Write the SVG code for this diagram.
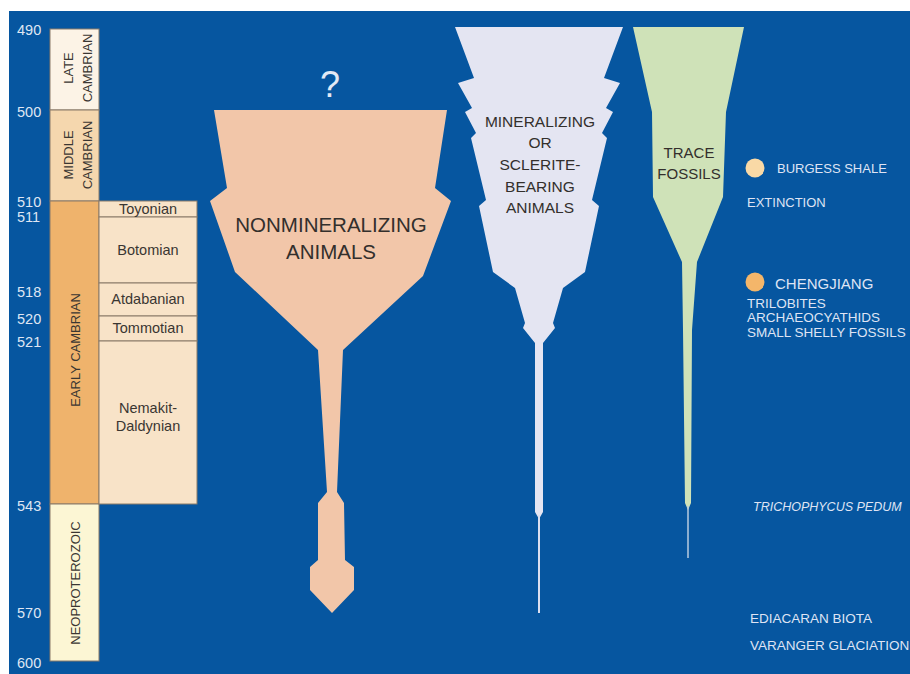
<svg xmlns="http://www.w3.org/2000/svg" width="910" height="674" viewBox="0 0 910 674">
<style>
  .num{font-family:"Liberation Sans",Arial,sans-serif;font-size:14.5px;fill:#dfe6f3}
  .lab{font-family:"Liberation Sans",Arial,sans-serif;fill:#dfe4f4}
  .era{font-family:"Liberation Sans",Arial,sans-serif;font-size:13px;fill:#3a3632;text-anchor:middle}
  .stg{font-family:"Liberation Sans",Arial,sans-serif;font-size:14.5px;fill:#3a3632;text-anchor:middle}
  .big{font-family:"Liberation Sans",Arial,sans-serif;fill:#332f2c;text-anchor:middle}
  .box{stroke:#8a7a68;stroke-width:1}
</style>
<rect x="0" y="0" width="910" height="674" fill="#ffffff"/>
<rect x="9" y="11" width="901" height="663" fill="#0656a0"/>

<g id="timescale">
  <rect class="box" x="50" y="29" width="49" height="81" fill="#fcf3e6"/>
  <rect class="box" x="50" y="110" width="49" height="91" fill="#f5d7ae"/>
  <rect class="box" x="50" y="201" width="49" height="303" fill="#efb36c"/>
  <rect class="box" x="50" y="504" width="49" height="157" fill="#fcf6d4"/>
  <text class="era" transform="translate(72.5,68) rotate(-90)">LATE</text>
  <text class="era" transform="translate(91.5,68) rotate(-90)">CAMBRIAN</text>
  <text class="era" transform="translate(72.5,155) rotate(-90)">MIDDLE</text>
  <text class="era" transform="translate(91.5,155) rotate(-90)">CAMBRIAN</text>
  <text class="era" transform="translate(80,350) rotate(-90)">EARLY CAMBRIAN</text>
  <text class="era" transform="translate(80,583) rotate(-90)">NEOPROTEROZOIC</text>
</g>

<g id="stages">
  <rect class="box" x="99" y="201" width="98" height="16" fill="#f8e3c8"/>
  <rect class="box" x="99" y="217" width="98" height="66" fill="#f8e3c8"/>
  <rect class="box" x="99" y="283" width="98" height="33" fill="#f8e3c8"/>
  <rect class="box" x="99" y="316" width="98" height="25" fill="#f8e3c8"/>
  <rect class="box" x="99" y="341" width="98" height="163" fill="#f8e3c8"/>
  <text class="stg" x="148" y="214">Toyonian</text>
  <text class="stg" x="148" y="255">Botomian</text>
  <text class="stg" x="148" y="304">Atdabanian</text>
  <text class="stg" x="148" y="333">Tommotian</text>
  <text class="stg" x="148" y="413">Nemakit-</text>
  <text class="stg" x="148" y="431">Daldynian</text>
</g>

<g id="ages">
  <text class="num" x="17" y="35">490</text>
  <text class="num" x="17" y="117">500</text>
  <text class="num" x="17" y="207">510</text>
  <text class="num" x="17" y="222">511</text>
  <text class="num" x="17" y="297">518</text>
  <text class="num" x="17" y="324">520</text>
  <text class="num" x="17" y="347">521</text>
  <text class="num" x="17" y="511">543</text>
  <text class="num" x="17" y="618">570</text>
  <text class="num" x="17" y="668">600</text>
</g>

<g id="nonmineralizing">
  <polygon fill="#f2c6a9" points="214,110 447,110 435,188 451,201 423,276 343,350 337,492 344,503 345,560 354,567 354,590 332,613 310,590 310,567 318,560 318,503 327,492 318,350 235,272 210,201 227,188"/>
  <text class="big" x="331" y="232" style="font-size:20.5px">NONMINERALIZING</text>
  <text class="big" x="331" y="259" style="font-size:20.5px">ANIMALS</text>
  <text x="330" y="97" style="font-family:'Liberation Sans',Arial,sans-serif;font-size:36px;fill:#e2e9f5;text-anchor:middle">?</text>
</g>

<g id="mineralizing">
  <polygon fill="#e4e5f2" points="455,27 623,27 604,78 620,83 606,108 613,112 602,133 607,138 592,200 599,206 585,272 563,288 553,323 555,328 543,343 543,512 539,519 535,512 535,343 523,328 525,323 515,288 493,272 479,206 486,200 471,138 476,133 465,112 472,108 458,83 474,78"/>
  <line x1="539" y1="515" x2="539" y2="613" stroke="#dcdff0" stroke-width="2"/>
  <text class="big" style="font-size:15.5px" x="540" y="127">MINERALIZING</text>
  <text class="big" style="font-size:15.5px" x="540" y="148">OR</text>
  <text class="big" style="font-size:15.5px" x="540" y="170">SCLERITE-</text>
  <text class="big" style="font-size:15.5px" x="540" y="192">BEARING</text>
  <text class="big" style="font-size:15.5px" x="540" y="213">ANIMALS</text>
</g>

<g id="trace">
  <polygon fill="#cfe2b8" points="633,27 744,27 726,112 723,197 697,262 692,330 691,503 688,510 685,503 683,330 682,262 653,197 652,112"/>
  <line x1="688" y1="506" x2="688" y2="558" stroke="#b8cde0" stroke-width="1.5"/>
  <text class="big" style="font-size:15px" x="689" y="158">TRACE</text>
  <text class="big" style="font-size:15px" x="689" y="179">FOSSILS</text>
</g>

<g id="events">
  <circle cx="755" cy="168" r="9.5" fill="#f9d9a6"/>
  <text class="lab" style="font-size:13px" x="777" y="173">BURGESS SHALE</text>
  <text class="lab" style="font-size:13px" x="747" y="207">EXTINCTION</text>
  <circle cx="755" cy="282" r="9.5" fill="#f4b66a"/>
  <text class="lab" style="font-size:15px" x="775" y="289">CHENGJIANG</text>
  <text class="lab" style="font-size:13.5px" x="747" y="308">TRILOBITES</text>
  <text class="lab" style="font-size:13.5px" x="747" y="322">ARCHAEOCYATHIDS</text>
  <text class="lab" style="font-size:13.5px" x="747" y="337">SMALL SHELLY FOSSILS</text>
  <text class="lab" style="font-size:12.5px;font-style:italic" x="753" y="511">TRICHOPHYCUS PEDUM</text>
  <text class="lab" style="font-size:13.5px" x="750" y="623">EDIACARAN BIOTA</text>
  <text class="lab" style="font-size:13.5px" x="750" y="650">VARANGER GLACIATION</text>
</g>
</svg>
